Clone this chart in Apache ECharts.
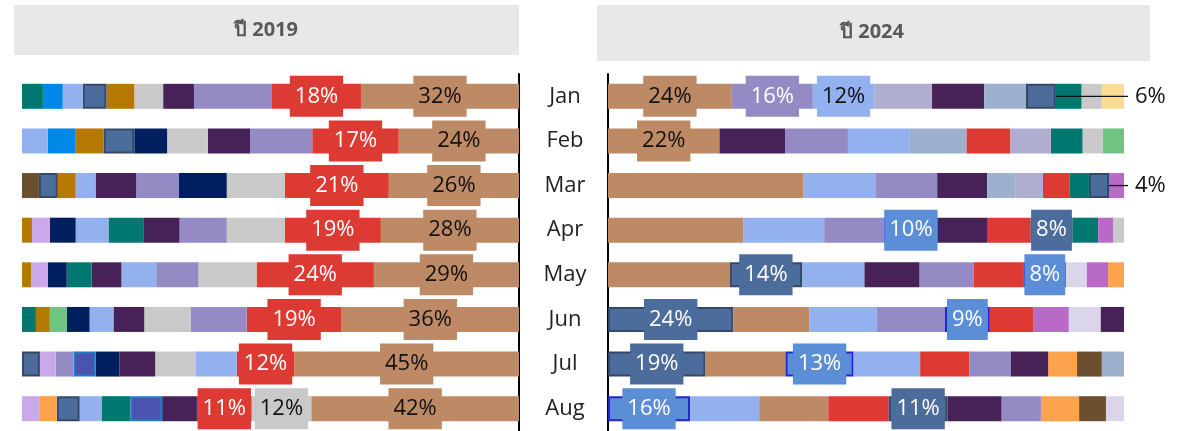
<!DOCTYPE html>
<html>
<head>
<meta charset="utf-8">
<script src="https://cdn.jsdelivr.net/npm/echarts@6/dist/echarts.min.js"></script>
<style>
  html, body { margin: 0; padding: 0; background: #fff; }
  #chart { width: 1191px; height: 431px; }
</style>
</head>
<body>
<div id="chart"></div>
<script>
const months = ["Jan", "Feb", "Mar", "Apr", "May", "Jun", "Jul", "Aug"];

// colour of each category
const colors = {
  brown: "#BE8A65", red: "#DC3A33", lavender: "#948BC5", plum: "#462259",
  silver: "#C9C9C9", sky: "#93B1EE", navy: "#001F5F", teal: "#007870",
  gold: "#B57800", azure: "#0088E8", steel: "#4C6C9C", umber: "#6B4F2F",
  lilac: "#C9A9EA", green: "#70C482", orange: "#FDA24D", cobalt: "#5B8ED6",
  indigo: "#4B53AF", mist: "#AFAED1", slate: "#9DB1CE", cream: "#FEDB92",
  orchid: "#B96AC7", haze: "#DAD5EB"
};
// outlined categories
const edges = { steel: "#34496A", cobalt: "#2424D4", indigo: "#1E7BCB" };
// white label text on these
const lightInk = ["red", "lavender", "steel", "cobalt"];

// 2019: categories from the axis outwards, and their shares (%)
const cats2019 = [
  ["brown", "red", "lavender", "plum", "silver", "gold", "steel", "sky", "azure", "teal"],
  ["brown", "red", "lavender", "plum", "silver", "navy", "steel", "gold", "azure", "sky"],
  ["brown", "red", "silver", "navy", "lavender", "plum", "sky", "gold", "steel", "umber"],
  ["brown", "red", "silver", "lavender", "plum", "teal", "sky", "navy", "lilac", "gold"],
  ["brown", "red", "silver", "lavender", "sky", "plum", "teal", "navy", "lilac", "gold"],
  ["brown", "red", "lavender", "silver", "plum", "sky", "navy", "green", "gold", "teal"],
  ["brown", "red", "sky", "silver", "plum", "navy", "indigo", "lavender", "lilac", "steel"],
  ["brown", "silver", "red", "plum", "indigo", "teal", "sky", "steel", "orange", "lilac"]
];
const vals2019 = [
  [31.8, 17.9, 15.7, 6.2, 5.8, 5.6, 4.8, 4.0, 4.0, 4.2],
  [24.2, 17.4, 12.5, 8.5, 8.2, 6.6, 6.2, 5.6, 5.6, 5.2],
  [26.2, 20.9, 11.7, 9.7, 8.5, 8.2, 4.0, 3.6, 3.8, 3.4],
  [27.8, 19.3, 11.7, 9.5, 7.3, 7.0, 6.6, 5.2, 3.6, 2.0],
  [29.2, 23.6, 11.7, 8.5, 7.0, 6.0, 5.0, 3.8, 3.4, 1.8],
  [35.7, 19.1, 11.3, 9.3, 6.2, 4.8, 4.6, 3.4, 2.8, 2.8],
  [45.2, 11.6, 8.2, 8.2, 7.2, 4.8, 4.4, 3.6, 3.2, 3.6],
  [41.8, 12.0, 11.0, 7.0, 6.4, 5.8, 4.4, 4.6, 3.4, 3.6]
];
const tags2019 = [
  ["brown", "red"], ["brown", "red"], ["brown", "red"], ["brown", "red"],
  ["brown", "red"], ["brown", "red"], ["brown", "red"], ["brown", "red", "silver"]
];

// 2024
const cats2024 = [
  ["brown", "lavender", "sky", "mist", "plum", "slate", "steel", "teal", "silver", "cream"],
  ["brown", "plum", "lavender", "sky", "slate", "red", "mist", "teal", "silver", "green"],
  ["brown", "sky", "lavender", "plum", "slate", "mist", "red", "teal", "steel", "orchid"],
  ["brown", "sky", "lavender", "cobalt", "plum", "red", "steel", "teal", "orchid", "silver"],
  ["brown", "steel", "sky", "plum", "lavender", "red", "cobalt", "haze", "orchid", "orange"],
  ["steel", "brown", "sky", "lavender", "cobalt", "red", "orchid", "haze", "plum"],
  ["steel", "brown", "cobalt", "sky", "red", "lavender", "plum", "orange", "umber", "slate"],
  ["cobalt", "sky", "brown", "red", "steel", "plum", "lavender", "orange", "umber", "haze"]
];
const vals2024 = [
  [24.0, 15.7, 11.9, 11.2, 10.1, 8.1, 5.8, 5.0, 3.9, 4.3],
  [21.6, 12.7, 12.2, 12.0, 11.0, 8.5, 7.8, 6.2, 3.9, 4.1],
  [37.8, 14.0, 12.0, 9.7, 5.4, 5.4, 5.2, 3.7, 3.9, 2.9],
  [26.2, 15.7, 11.6, 10.4, 9.7, 8.3, 8.1, 5.0, 2.9, 2.1],
  [23.6, 14.0, 12.1, 10.7, 10.5, 9.7, 8.1, 4.1, 4.1, 3.1],
  [24.3, 14.7, 13.1, 13.2, 8.7, 8.5, 6.8, 6.2, 4.5],
  [18.9, 15.5, 13.2, 12.9, 9.5, 8.1, 7.2, 5.6, 4.8, 4.3],
  [15.9, 13.4, 13.4, 11.7, 11.4, 10.5, 7.6, 7.4, 5.2, 3.5]
];
const tags2024 = [
  ["brown", "lavender", "sky"], ["brown"], [], ["cobalt", "steel"],
  ["steel", "cobalt"], ["steel", "cobalt"], ["steel", "cobalt"], ["cobalt", "steel"]
];
// labels set outside the bar with a leader line
const callouts2024 = [["Jan", "steel"], ["Mar", "steel"]];

const gridTop = 74, gridHeight = 357.7;
const leftGrid = { left: 22, width: 497 };
const rightGrid = { left: 608, width: 516 };

const labelBase = {
  position: "inside",
  fontFamily: "Open Sans",
  fontSize: 22,
  lineHeight: 31,
  padding: [5, 5],
  formatter: (p) => Math.round(p.value) + "%"
};

const calloutKeys = new Set();

function buildSeries(cats, vals, tags, callouts, axis, stack) {
  const ranks = Math.max(...cats.map((r) => r.length));
  const list = [];
  for (let k = 0; k < ranks; k++) {
    const seriesIndex = list.length + (axis === 1 ? 10 : 0);
    let hasCallout = false;
    const data = months.map((m, mi) => {
      const key = cats[mi][k];
      if (key == null) return "-";
      const style = { color: colors[key] };
      if (edges[key]) {
        style.borderColor = edges[key];
        style.borderWidth = 2;
      }
      const item = { value: vals[mi][k], itemStyle: style };
      if (tags[mi].includes(key)) {
        item.label = {
          show: true,
          backgroundColor: colors[key],
          color: lightInk.includes(key) ? "#fff" : "#111"
        };
      }
      if (callouts.some((c) => c[0] === m && c[1] === key)) {
        item.label = { show: true, color: "#111", padding: [5, 5, 5, 7] };
        item.labelLine = { show: true, lineStyle: { color: "#111", width: 1.3 } };
        calloutKeys.add(seriesIndex + "_" + mi);
        hasCallout = true;
      }
      return item;
    });
    list.push({
      type: "bar",
      stack: stack,
      xAxisIndex: axis,
      yAxisIndex: axis,
      // leader lines must stay above the segments further out
      z: hasCallout ? 3 + ranks - k : 2,
      barWidth: 25,
      silent: true,
      label: Object.assign({ show: false }, labelBase),
      labelLayout: (p) =>
        calloutKeys.has(p.seriesIndex + "_" + p.dataIndex)
          ? {
              x: rightGrid.left + rightGrid.width + 4,
              y: p.rect.y + p.rect.height / 2,
              align: "left",
              verticalAlign: "middle"
            }
          : {},
      data: data
    });
  }
  return list;
}

const series2019 = buildSeries(cats2019, vals2019, tags2019, [], 0, "y2019");
const series2024 = buildSeries(cats2024, vals2024, tags2024, callouts2024, 1, "y2024");

const chart = echarts.init(document.getElementById("chart"));
chart.setOption({
  animation: false,
  grid: [
    { left: leftGrid.left, width: leftGrid.width, top: gridTop, height: gridHeight, containLabel: false },
    { left: rightGrid.left, width: rightGrid.width, top: gridTop, height: gridHeight, containLabel: false }
  ],
  xAxis: [
    { gridIndex: 0, type: "value", min: 0, max: 100, inverse: true, show: false },
    { gridIndex: 1, type: "value", min: 0, max: 100, show: false }
  ],
  yAxis: [
    {
      gridIndex: 0, type: "category", data: months, inverse: true, position: "right",
      axisLine: { show: true, lineStyle: { color: "#000", width: 2 } },
      axisTick: { show: false }, axisLabel: { show: false }, splitLine: { show: false }
    },
    {
      gridIndex: 1, type: "category", data: months, inverse: true, position: "left",
      axisLine: { show: true, lineStyle: { color: "#000", width: 2 } },
      axisTick: { show: false }, splitLine: { show: false },
      axisLabel: {
        align: "center", margin: 43, fontFamily: "Open Sans",
        fontSize: 22, color: "#222"
      }
    }
  ],
  graphic: [
    { type: "rect", shape: { x: 14, y: 5, width: 505, height: 50 }, style: { fill: "#E8E8E8" }, silent: true },
    { type: "rect", shape: { x: 597, y: 5, width: 553, height: 56 }, style: { fill: "#E8E8E8" }, silent: true },
    {
      type: "text", x: 266, y: 30, silent: true,
      style: { text: "ปี 2019", fontSize: 20, fontWeight: "bold", fill: "#595959",
        fontFamily: "Noto Sans, DejaVu Sans, sans-serif", align: "center", verticalAlign: "middle" }
    },
    {
      type: "text", x: 872, y: 32, silent: true,
      style: { text: "ปี 2024", fontSize: 20, fontWeight: "bold", fill: "#595959",
        fontFamily: "Noto Sans, DejaVu Sans, sans-serif", align: "center", verticalAlign: "middle" }
    }
  ],
  series: series2019.concat(series2024)
});
</script>
</body>
</html>
